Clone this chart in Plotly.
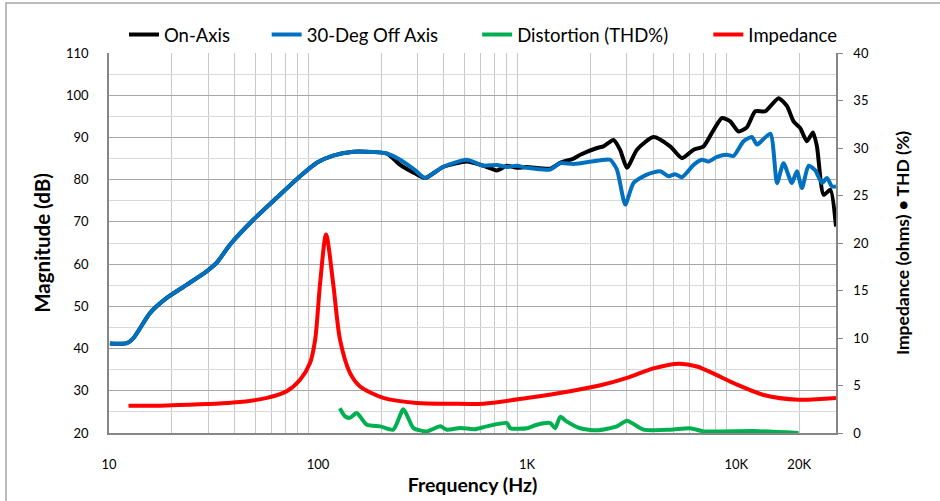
import numpy as np
import plotly.graph_objects as go

# ---------------- data ----------------
freq_on = [10.1, 12.2, 13.1, 15.7, 18.9, 23.5, 29.3, 32.7, 37.9, 49, 63.4, 82, 98.6, 118, 147.5,
           171, 213, 247, 290, 325, 396, 514, 618, 716, 800, 893, 997, 1289, 1439, 1667, 1795,
           2158, 2318, 2589, 2787, 3000, 3350, 4018, 4830, 5500, 6250, 6980, 7650, 8550, 9360,
           10260, 11240, 12330, 13770, 15930, 17490, 18800, 20230, 21780, 23280, 24320, 26180,
           28180, 30000]
on_axis = [41.2, 41.3, 42.5, 48.4, 52.0, 55.1, 58.3, 60.3, 64.6, 70.5, 75.7, 80.8, 84.0, 85.7, 86.6,
           86.6, 86.2, 83.5, 81.5, 80.4, 83.0, 84.3, 83.3, 82.2, 83.3, 82.8, 83.0, 82.6, 84.0, 85.0, 85.9,
           87.5, 87.9, 89.4, 87.0, 82.8, 87.1, 90.1, 87.9, 85.1, 87.1, 87.9, 91.1, 94.6, 93.8,
           91.4, 92.4, 96.2, 96.2, 99.3, 97.4, 93.8, 92.2, 89.1, 91.2, 87.9, 76.4,
           77.6, 68.9]

freq_off = [10.1, 12.2, 13.1, 15.7, 18.9, 23.5, 29.3, 32.7, 37.9, 49, 63.4, 82, 98.6, 118, 147.5,
            171, 213, 247, 290, 325, 396, 514, 618, 716, 800, 893, 997, 1289, 1439, 1667, 2234,
            2496, 2687, 2945, 3226, 3736, 4325, 4745, 5100, 5500, 6250, 6850, 7370, 8090, 9020,
            9703, 10840, 11880, 12560, 14550, 15670, 16830, 18450, 19500, 20620, 22180, 23880,
            25700, 27170, 28710, 30000]
off_axis = [41.2, 41.3, 42.5, 48.4, 52.0, 55.1, 58.3, 60.3, 64.6, 70.5, 75.7, 80.8, 84.0, 85.7, 86.6,
            86.6, 86.2, 84.7, 82.3, 80.4, 83.0, 84.7, 83.3, 83.5, 83.0, 83.3, 82.8, 82.4, 83.9, 83.7, 84.6,
            84.7, 82.4, 74.1, 79.2, 81.2, 82.0, 80.8, 81.3, 80.6, 83.5, 84.7, 84.3, 85.4, 85.9,
            85.6, 89.1, 90.1, 88.3, 90.9, 79.2, 83.9, 79.2, 82.0, 78.0, 83.3, 82.2,
            79.2, 80.4, 78.4, 78.4]

freq_thd = [127, 134.6, 142, 153, 171, 198, 229, 256, 286, 331, 384, 413, 478, 560, 641, 800, 830,
            997, 1112, 1289, 1361, 1439, 1549, 1795, 2158, 2687, 3000, 3600, 4830, 6026, 6980,
            12100, 19870]
thd = [2.6, 1.75, 1.6, 2.1, 0.87, 0.7, 0.35, 2.5, 0.52, 0.17, 0.7, 0.35, 0.52, 0.4, 0.7, 1.05, 0.5,
       0.5, 0.87, 1.05, 0.5, 1.7, 1.2, 0.5, 0.28, 0.7, 1.3, 0.35, 0.35, 0.5, 0.17,
       0.2, 0.0]

freq_imp = [12.4, 18.9, 39.3, 56.9, 70.8, 82, 91.6, 96.8, 102.3, 109.2, 118, 127.4, 142.2, 158.8,
            205, 296.6, 428.5, 618, 997, 1607, 2318, 3000, 4018, 5297, 6487, 10070, 13520, 19870, 30000]
impedance = [2.87, 2.9, 3.2, 3.7, 4.4, 5.6, 7.4, 9.8, 15.8, 20.9, 15.8, 9.8, 6.3, 4.9,
             3.7, 3.16, 3.08, 3.08, 3.68, 4.4, 5.1, 5.8, 6.8, 7.3, 7.0, 5.1, 4.0, 3.5, 3.68]

x_tick_vals = [10, 100, 1000, 10000, 20000]
x_tick_text = ["10", "100", "1K", "10K", "20K"]
decades = [10, 100, 1000, 10000]
minor_vals = [m * d for d in decades for m in range(2, 10) if m * d <= 30000]

FONT = "Lato, 'Open Sans', sans-serif"

fig = go.Figure()
fig.add_trace(go.Scatter(x=freq_on, y=on_axis, name="On-Axis", mode="lines", legend="legend",
                         line=dict(color="#000000", width=4, shape="spline", smoothing=0.6)))
fig.add_trace(go.Scatter(x=freq_off, y=off_axis, name="30-Deg Off Axis", mode="lines", legend="legend2",
                         line=dict(color="#0070C0", width=4, shape="spline", smoothing=0.6)))
fig.add_trace(go.Scatter(x=freq_thd, y=thd, name="Distortion (THD%)", mode="lines", yaxis="y2",
                         legend="legend3",
                         line=dict(color="#00B050", width=4, shape="spline", smoothing=0.6)))
fig.add_trace(go.Scatter(x=freq_imp, y=impedance, name="Impedance", mode="lines", yaxis="y2",
                         legend="legend4",
                         line=dict(color="#FF0000", width=4, shape="spline", smoothing=0.8)))

def leg(xpos):
    return dict(orientation="h", x=xpos, xanchor="left", y=1.0474, yanchor="middle",
                font=dict(size=18.5, family=FONT), bgcolor="rgba(0,0,0,0)", borderwidth=0)

xr = [1, np.log10(30000)]
fig.update_layout(
    width=940, height=501,
    margin=dict(l=109, r=104, t=53, b=68, autoexpand=False),
    paper_bgcolor="white", plot_bgcolor="white",
    font=dict(family=FONT, size=13, color="#000000"),
    showlegend=True,
    legend=leg(0.0206), legend2=leg(0.2169), legend3=leg(0.5064), legend4=leg(0.8244),
    xaxis=dict(type="log", range=xr, tickvals=x_tick_vals, ticktext=x_tick_text,
               showgrid=False, ticks="", ticklabelstandoff=18, automargin=False,
               showline=True, linecolor="#868686", linewidth=2,
               minor=dict(tickvals=minor_vals, showgrid=True, gridcolor="#C8C8C8", gridwidth=1.3, ticks=""),
               title=dict(text="<b>Frequency (Hz)</b>", font=dict(size=19.5), standoff=8),
               zeroline=False),
    xaxis2=dict(type="log", range=xr, overlaying="x", anchor="y", tickvals=decades,
                showticklabels=False, showgrid=True, gridcolor="#8C8C8C", gridwidth=1.3,
                ticks="", showline=False, zeroline=False, automargin=False),
    yaxis=dict(range=[20, 110], dtick=10, showgrid=True, gridcolor="#A6A6A6", gridwidth=1.3,
               minor=dict(dtick=5, showgrid=True, gridcolor="#D9D9D9", gridwidth=1.3, ticks=""),
               showline=True, linecolor="#868686", linewidth=1.5, ticks="", ticklabelstandoff=16,
               automargin=False,
               title=dict(text="<b>Magnitude (dB)</b>", font=dict(size=20.5), standoff=10),
               zeroline=False),
    yaxis2=dict(range=[0, 40], dtick=5, overlaying="y", side="right", showgrid=False,
                showline=True, linecolor="#868686", linewidth=1.5, ticks="outside", ticklen=5,
                tickcolor="#868686", ticklabelstandoff=8, automargin=False,
                title=dict(text="<b>Impedance (ohms) • THD (%)</b>", font=dict(size=17.5), standoff=29),
                zeroline=False),
    shapes=[dict(type="rect", xref="paper", yref="paper", x0=-0.1417, x1=1.2, y0=-0.25, y1=1.1316,
                 line=dict(color="#A6A6A6", width=1.5), fillcolor="rgba(0,0,0,0)", layer="below")],
)

fig.write_html("out.html", config={"displayModeBar": False},
               post_script="document.body.style.margin='0';document.body.style.overflow='hidden';")
